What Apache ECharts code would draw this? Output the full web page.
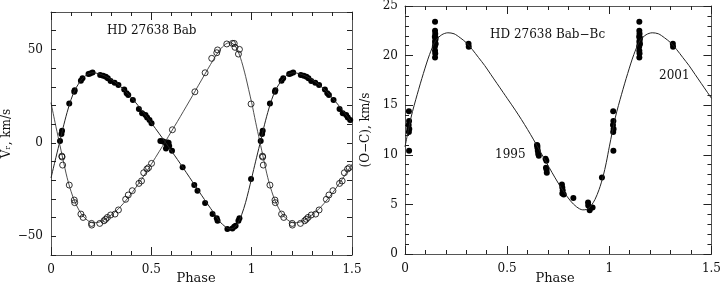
<!DOCTYPE html>
<html><head><meta charset="utf-8">
<script src="https://cdn.jsdelivr.net/npm/echarts@6/dist/echarts.min.js"></script>
<style>html,body{margin:0;padding:0;background:#fff}#c{width:724px;height:286px}</style>
</head><body><div id="c"></div>
<script>
// ---- Data (phase, km/s) ----
const primaryObs = [[0.045,1.0],[0.052,4.7],[0.055,6.5],[0.091,21.1],[0.116,27.3],[0.118,28.2],[0.149,33.2],[0.157,34.5],[0.187,36.8],[0.195,37.1],[0.207,37.7],[0.245,36.3],[0.260,35.9],[0.273,35.4],[0.283,34.5],[0.297,33.1],[0.317,32.2],[0.336,30.9],[0.365,28.6],[0.377,26.5],[0.385,25.6],[0.408,22.9],[0.438,18.1],[0.454,15.8],[0.471,14.9],[0.479,13.6],[0.491,12.2],[0.501,10.5],[0.545,1.0],[0.556,0.8],[0.562,0.6],[0.573,-0.3],[0.580,0.2],[0.586,0.0],[0.589,-1.7],[0.573,-3.0],[0.603,-4.2],[0.656,-13.1],[0.714,-22.6],[0.730,-25.6],[0.768,-32.2],[0.805,-38.1],[0.826,-40.4],[0.830,-41.7],[0.879,-46.1],[0.904,-45.8],[0.913,-44.9],[0.920,-44.4],[0.934,-41.7],[0.939,-40.4],[0.997,-19.4]];
const secondaryObs = [[0.054,-7.1],[0.055,-7.6],[0.058,-11.9],[0.091,-22.6],[0.116,-30.6],[0.118,-32.0],[0.149,-38.1],[0.160,-39.9],[0.202,-43.1],[0.203,-44.0],[0.243,-43.1],[0.264,-41.7],[0.272,-40.9],[0.281,-39.9],[0.297,-38.6],[0.319,-38.1],[0.336,-35.9],[0.372,-30.2],[0.385,-27.9],[0.405,-25.6],[0.438,-21.7],[0.451,-20.4],[0.462,-16.0],[0.478,-14.0],[0.486,-13.3],[0.501,-11.0],[0.605,7.0],[0.717,27.3],[0.768,37.5],[0.801,45.2],[0.826,48.2],[0.830,49.7],[0.876,52.9],[0.904,53.2],[0.913,53.2],[0.917,51.1],[0.934,47.5],[0.939,50.0],[0.997,20.8]];
const primaryCurve = [[0.00,-18.8],[0.02,-9.8],[0.04,-1],[0.06,8],[0.08,16.2],[0.10,23.2],[0.12,28.4],[0.15,33.5],[0.18,36.5],[0.21,37.5],[0.24,36.9],[0.27,35.7],[0.30,33.9],[0.33,31.6],[0.36,28.8],[0.39,25.5],[0.42,21.8],[0.45,17.8],[0.48,13.6],[0.50,10.7],[0.54,4.8],[0.57,0.3],[0.60,-4.3],[0.63,-8.9],[0.66,-13.6],[0.69,-18.4],[0.72,-23.2],[0.75,-28.0],[0.78,-32.7],[0.81,-37.3],[0.84,-42.0],[0.87,-45.0],[0.89,-46.0],[0.91,-45.6],[0.93,-43.2],[0.95,-38.5],[0.97,-31.8],[0.985,-25.5],[1.00,-18.8]];
const secondaryCurve = [[0.00,21.5],[0.02,11],[0.04,1],[0.06,-9],[0.08,-18.5],[0.10,-26],[0.12,-31.8],[0.15,-37.8],[0.18,-41.3],[0.21,-42.8],[0.24,-42.4],[0.27,-40.8],[0.30,-38.6],[0.33,-35.9],[0.36,-32.5],[0.39,-28.6],[0.42,-24.3],[0.45,-19.7],[0.48,-14.8],[0.50,-11.4],[0.54,-4.5],[0.57,0.7],[0.60,6.1],[0.63,11.4],[0.66,16.9],[0.69,22.4],[0.72,28],[0.75,33.6],[0.78,39.2],[0.81,44.6],[0.84,49.6],[0.87,52.8],[0.89,53.6],[0.91,52.8],[0.93,49.5],[0.95,43.5],[0.97,35.5],[0.985,28.5],[1.00,21.5]];
const ocObs = [[0.019,14.4],[0.020,13.4],[0.018,13.0],[0.021,12.6],[0.019,12.3],[0.020,10.4],[0.147,23.4],[0.147,22.5],[0.148,22.2],[0.146,21.9],[0.149,21.6],[0.147,21.4],[0.148,21.1],[0.146,20.9],[0.147,20.5],[0.148,20.2],[0.147,19.8],[0.150,21.8],[0.150,21.2],[0.311,21.2],[0.312,20.9],[0.646,11.0],[0.648,10.7],[0.650,10.4],[0.652,10.1],[0.655,9.9],[0.648,10.9],[0.688,9.6],[0.692,9.4],[0.690,8.7],[0.693,8.5],[0.694,8.2],[0.768,7.0],[0.770,6.7],[0.772,6.4],[0.770,6.1],[0.777,6.0],[0.824,5.65],[0.896,5.2],[0.897,4.9],[0.904,4.4],[0.918,4.7],[0.964,7.7]];
const ocCurve = [[0.00,10.8],[0.03,13.8],[0.06,16.1],[0.09,18.2],[0.12,20.1],[0.15,21.5],[0.18,22.1],[0.21,22.3],[0.24,22.2],[0.27,21.8],[0.30,21.3],[0.33,20.6],[0.36,19.8],[0.39,19.0],[0.42,18.1],[0.45,17.2],[0.48,16.3],[0.50,15.7],[0.54,14.5],[0.57,13.55],[0.60,12.55],[0.63,11.5],[0.66,10.4],[0.69,9.3],[0.72,8.2],[0.75,7.15],[0.78,6.2],[0.81,5.35],[0.84,4.75],[0.87,4.45],[0.89,4.5],[0.91,4.85],[0.93,5.5],[0.95,6.5],[0.97,7.85],[0.985,9.2],[1.00,10.8]];
const xTickLabels = ['0','0.5','1','1.5'];
const leftYLabels = [-50,0,50];
const rightYLabels = [0,5,10,15,20,25];

// repeat phases 0..0.5 at 1..1.5
function extendObs(a){ return a.concat(a.filter(p=>p[0]<=0.5).map(p=>[p[0]+1,p[1]])); }
function extendCurve(a){ return a.concat(a.filter(p=>p[0]>0 && p[0]+1<=1.5).map(p=>[p[0]+1,p[1]])); }

const FONT = 'DejaVu Serif, DejaVu Sans, serif';
const LINE = '#555', TICK = '#222';

function xAx(g, pos, label){
  return {gridIndex:g, type:'value', min:0, max:1.5, interval:0.5, position:pos,
    axisLine:{show:true,onZero:false,lineStyle:{color:LINE,width:1}},
    axisTick:{show:true,inside:true,length:8,lineStyle:{color:TICK,width:1}},
    minorTick:{show:true,splitNumber:5,length:4,lineStyle:{color:TICK,width:1}},
    splitLine:{show:false},
    axisLabel:{show:label,margin:9,fontFamily:FONT,fontSize:12,color:'#111',
      formatter:v=>xTickLabels[Math.round(v/0.5)]}};
}
const leftFmt = v => leftYLabels.indexOf(Math.round(v))>=0 ? (v<0 ? '\u2212'+(-v) : String(v)) : '';
function yLeftPanel(pos, label){
  const a = {gridIndex:0, type:'value', min:-60, max:70, interval:10, position:pos,
    axisLine:{show:true,onZero:false,lineStyle:{color:LINE,width:1}},
    axisTick:{show:true,inside:true,length:5,lineStyle:{color:TICK,width:1}},
    splitLine:{show:false},
    axisLabel:{show:label,margin:8,fontFamily:FONT,fontSize:12,color:'#111',formatter:leftFmt}};
  if (label) Object.assign(a, {name:'V\u1D63, km/s', nameLocation:'middle', nameRotate:90, nameGap:38,
    nameTextStyle:{fontFamily:FONT,fontSize:12,color:'#111'}});
  return a;
}
function yRightPanel(pos, label){
  const a = {gridIndex:1, type:'value', min:0, max:25, interval:5, position:pos,
    axisLine:{show:true,onZero:false,lineStyle:{color:LINE,width:1}},
    axisTick:{show:true,inside:true,length:8,lineStyle:{color:TICK,width:1}},
    minorTick:{show:true,splitNumber:5,length:4,lineStyle:{color:TICK,width:1}},
    splitLine:{show:false},
    axisLabel:{show:label,margin:7,fontFamily:FONT,fontSize:12,color:'#111',
      formatter:v=>String(rightYLabels[Math.round(v/5)])}};
  if (label) Object.assign(a, {name:'(O\u2212C), km/s', nameLocation:'middle', nameRotate:90, nameGap:33,
    nameTextStyle:{fontFamily:FONT,fontSize:12,color:'#111'}});
  return a;
}
const lineS = (data, xi, yi, w) => ({type:'line', xAxisIndex:xi, yAxisIndex:yi, data, symbol:'none', smooth:0.3,
  lineStyle:{color:'#222', width:w}});
const filledS = (data, xi, yi) => ({type:'scatter', xAxisIndex:xi, yAxisIndex:yi, data, symbol:'circle', symbolSize:6,
  itemStyle:{color:'#000', opacity:1}});
const openS = (data, xi, yi) => ({type:'scatter', xAxisIndex:xi, yAxisIndex:yi, data, symbol:'circle', symbolSize:6,
  itemStyle:{color:'rgba(255,255,255,0)', borderColor:'#000', borderWidth:0.8, opacity:1}});

function txt(x,y,text,align,size){
  return {type:'text', x, y, style:{text, fontFamily:FONT, fontSize:size||12, fill:'#111', textAlign:align||'left', textVerticalAlign:'middle'}};
}

const chart = echarts.init(document.getElementById('c'));
chart.setOption({
  animation:false,
  grid:[{left:50, right:372, top:12, bottom:31},{left:405, right:10, top:5, bottom:32}],
  xAxis:[xAx(0,'bottom',true), xAx(0,'top',false), xAx(1,'bottom',true), xAx(1,'top',false)],
  yAxis:[yLeftPanel('left',true), yLeftPanel('right',false), yRightPanel('left',true), yRightPanel('right',false)],
  series:[
    lineS(extendCurve(primaryCurve),0,0,1),
    lineS(extendCurve(secondaryCurve),0,0,0.8),
    filledS(extendObs(primaryObs),0,0),
    openS(extendObs(secondaryObs),0,0),
    lineS(extendCurve(ocCurve),2,2,1),
    filledS(extendObs(ocObs),2,2)
  ],
  graphic:[
    txt(107,31,'HD 27638 Bab'),
    txt(490,35,'HD 27638 Bab\u2212Bc'),
    txt(659,76,'2001'),
    txt(495,155,'1995'),
    txt(196,279,'Phase','center',13),
    txt(555,279,'Phase','center',13)
  ]
});
</script></body></html>
